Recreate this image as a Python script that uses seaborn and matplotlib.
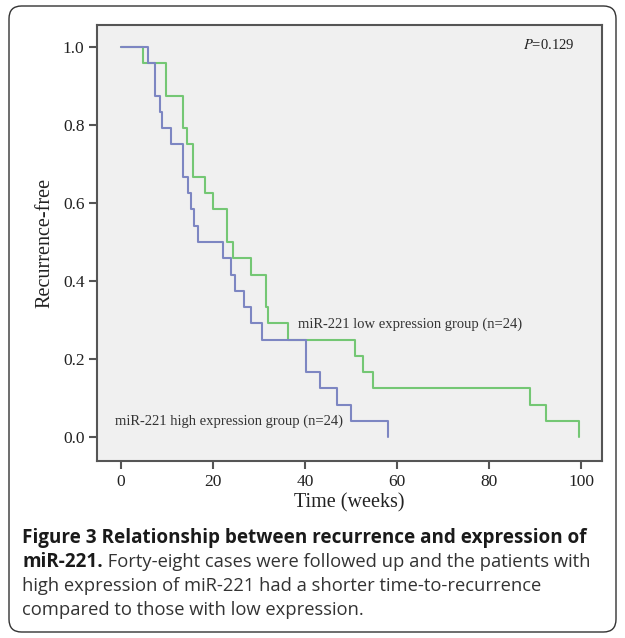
import numpy as np
import pandas as pd
import matplotlib
matplotlib.use("Agg")
import matplotlib.pyplot as plt
import seaborn as sns
from matplotlib.patches import FancyBboxPatch

# ---- data ----
N_PER_GROUP = 24
low_times = [0, 4.8, 9.8, 13.4, 14.4, 15.7, 18.3, 19.9, 23.0, 24.3, 28.2, 31.6,
             32.0, 36.3, 50.8, 52.5, 54.7, 88.9, 92.3, 99.5]
low_remaining = [24, 23, 21, 19, 18, 16, 15, 14, 12, 11, 10, 8,
                 7, 6, 5, 4, 3, 2, 1, 0]
high_times = [0, 5.8, 7.4, 8.5, 9.0, 10.8, 13.5, 14.6, 15.3, 15.8, 16.8, 22.2,
              23.9, 24.7, 26.7, 28.3, 30.7, 40.1, 43.3, 46.9, 50.0, 58.0]
high_remaining = [24, 23, 21, 20, 19, 18, 16, 15, 14, 13, 12, 11,
                  10, 9, 8, 7, 6, 4, 3, 2, 1, 0]
group_names = ["miR-221 low expression group (n=24)",
               "miR-221 high expression group (n=24)"]
x_ticks = [0, 20, 40, 60, 80, 100]
y_ticks = [0.0, 0.2, 0.4, 0.6, 0.8, 1.0]
p_text = "=0.129"

df = pd.concat([
    pd.DataFrame({"time": low_times,
                  "surv": np.array(low_remaining) / N_PER_GROUP,
                  "group": "low"}),
    pd.DataFrame({"time": high_times,
                  "surv": np.array(high_remaining) / N_PER_GROUP,
                  "group": "high"}),
], ignore_index=True)

sns.set_theme(style="white")
plt.rcParams["font.family"] = ["Liberation Serif", "DejaVu Serif"]

W, H = 625, 638
fig = plt.figure(figsize=(W / 100, H / 100), dpi=100)
fig.patch.set_facecolor("white")

ax = fig.add_axes([97 / W, 1 - 461 / H, (602 - 97) / W, (461 - 25) / H])
ax.set_facecolor("#f0f0f0")

palette = {"low": "#74c774", "high": "#7d86c2"}
sns.lineplot(data=df, x="time", y="surv", hue="group", palette=palette,
             drawstyle="steps-post", linewidth=1.5, legend=False, ax=ax,
             estimator=None, sort=False)

ax.set_xlim(-5.2, 104.5)
ax.set_ylim(-0.061, 1.056)
ax.set_xticks(x_ticks)
ax.set_xticklabels([str(t) for t in x_ticks])
ax.set_yticks(y_ticks)
ax.set_yticklabels([f"{t:.1f}" for t in y_ticks])
for s in ax.spines.values():
    s.set_color("#555555")
    s.set_linewidth(1.5)
ax.tick_params(axis="both", which="major", direction="out", length=6,
               width=1.5, color="#555555", labelsize=12.5, labelcolor="#222222",
               pad=3, bottom=True, left=True)
ax.set_xlabel("Time (weeks)", fontsize=14.5, color="#222222", labelpad=3)
ax.set_ylabel("Recurrence-free", fontsize=14.5, color="#222222", labelpad=6)

ax.text((523 - 97) / 505, 0.955, "$\\it{P}$" + p_text, transform=ax.transAxes,
        fontsize=10.5, color="#222222", ha="left", va="center",
        math_fontfamily="stix")
ax.text(38.5, 0.29, group_names[0], fontsize=10.5, color="#333333",
        ha="left", va="center")
ax.text(-1.2, 0.042, group_names[1], fontsize=10.5, color="#333333",
        ha="left", va="center")

# ---- caption ----
cap_font = ["Open Sans", "DejaVu Sans"]
x0 = 22 / W
fs = 13.2
fs_b = 13.6
lines_y = [538, 562, 586, 610]
fig.text(x0, 1 - lines_y[0] / H, "Figure 3 Relationship between recurrence and expression of",
         fontsize=fs_b, fontweight="bold", family=cap_font, color="#1a1a1a",
         ha="left", va="center")
t_bold = fig.text(x0, 1 - lines_y[1] / H, "miR-221.", fontsize=fs_b, fontweight="bold",
                  family=cap_font, color="#1a1a1a", ha="left", va="center")
fig.canvas.draw()
r = fig.canvas.get_renderer()
bb = t_bold.get_window_extent(renderer=r)
fig.text(bb.x1 / W, 1 - lines_y[1] / H,
         " Forty-eight cases were followed up and the patients with",
         fontsize=fs, family=cap_font, color="#333333", ha="left", va="center")
fig.text(x0, 1 - lines_y[2] / H,
         "high expression of miR-221 had a shorter time-to-recurrence",
         fontsize=fs, family=cap_font, color="#333333", ha="left", va="center")
fig.text(x0, 1 - lines_y[3] / H, "compared to those with low expression.",
         fontsize=fs, family=cap_font, color="#333333", ha="left", va="center")

# ---- rounded outer border ----
border = FancyBboxPatch((9 / W, 6 / H), (616 - 9) / W, (632 - 6) / H,
                        boxstyle="round,pad=0,rounding_size=0.02",
                        transform=fig.transFigure, fill=False,
                        edgecolor="#333333", linewidth=1.0)
fig.patches.append(border)

fig.savefig("out.png", dpi=100, facecolor="white")
